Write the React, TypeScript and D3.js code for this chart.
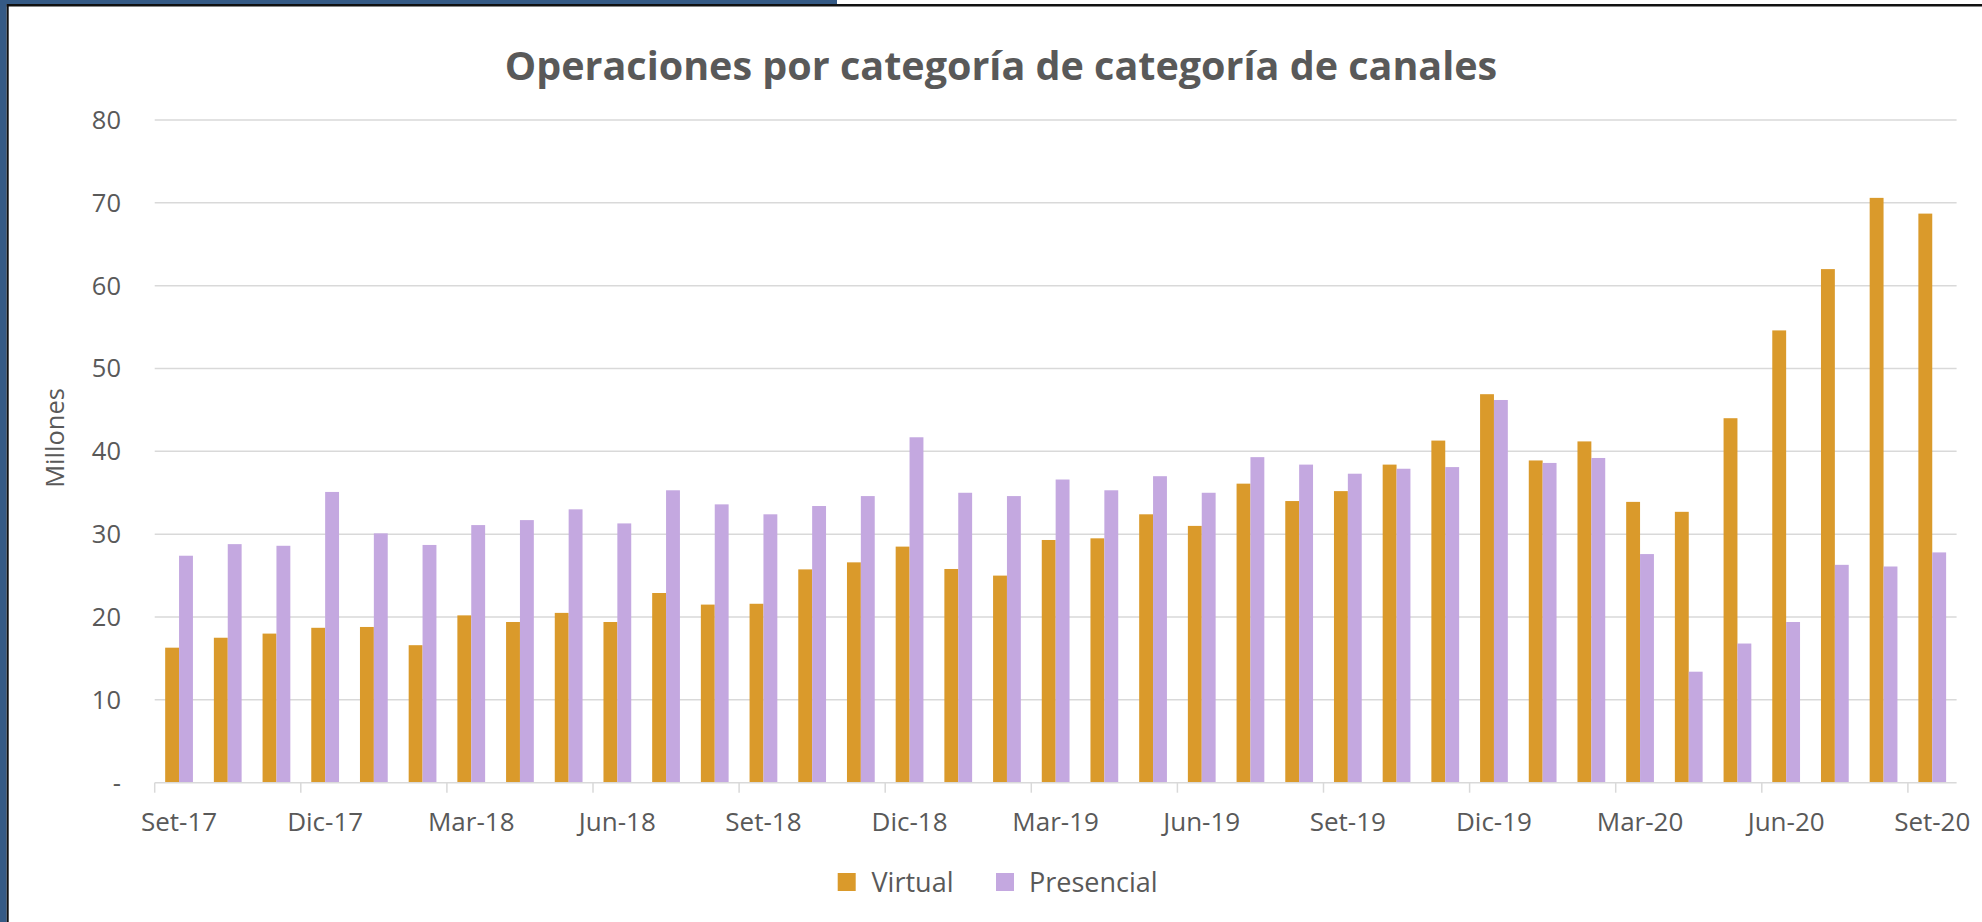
import React from "react";
import * as d3 from "d3";

const months: string[] = [
  "Set-17","Oct-17","Nov-17","Dic-17","Ene-18","Feb-18","Mar-18","Abr-18","May-18","Jun-18","Jul-18","Ago-18",
  "Set-18","Oct-18","Nov-18","Dic-18","Ene-19","Feb-19","Mar-19","Abr-19","May-19","Jun-19","Jul-19","Ago-19",
  "Set-19","Oct-19","Nov-19","Dic-19","Ene-20","Feb-20","Mar-20","Abr-20","May-20","Jun-20","Jul-20","Ago-20","Set-20",
];

const virtualValues: number[] = [
  16.3, 17.5, 18.0, 18.7, 18.8, 16.6, 20.2, 19.4, 20.5, 19.4, 22.9, 21.5,
  21.6, 25.75, 26.6, 28.5, 25.8, 25.0, 29.3, 29.5, 32.4, 31.0, 36.1, 34.0,
  35.2, 38.4, 41.3, 46.9, 38.9, 41.2, 33.9, 32.7, 44.0, 54.6, 62.0, 70.6, 68.7,
];

const presencialValues: number[] = [
  27.4, 28.8, 28.6, 35.1, 30.1, 28.7, 31.1, 31.7, 33.0, 31.3, 35.3, 33.6,
  32.4, 33.4, 34.6, 41.7, 35.0, 34.6, 36.6, 35.3, 37.0, 35.0, 39.3, 38.4,
  37.3, 37.9, 38.1, 46.2, 38.6, 39.2, 27.6, 13.4, 16.8, 19.4, 26.3, 26.1, 27.8,
];

const seriesNames: string[] = ["Virtual", "Presencial"];
const seriesColors: string[] = ["#DA9A2B", "#C4A8E0"];
const yTicks: number[] = [0, 10, 20, 30, 40, 50, 60, 70, 80];

const TEXT = "#595959";
const FONT = "'Open Sans', sans-serif";

export default function App() {
  const W = 1982, H = 922;
  const left = 154.7, right = 1956.6, top = 120, bottom = 782.7;

  const x = d3.scaleBand<string>().domain(months).range([left, right]).paddingInner(0.43).paddingOuter(0.215);
  const xs = d3.scaleBand<string>().domain(seriesNames).range([0, x.bandwidth()]).padding(0);
  const y = d3.scaleLinear().domain([0, 80]).range([bottom, top]);
  const step = x.step();
  const catLeft = (i: number) => left + step * i;

  const data = [virtualValues, presencialValues];

  return (
    <svg width={W} height={H} style={{ position: "absolute", left: 0, top: 0, background: "#fff" }} fontFamily={FONT}>
      <rect x={0} y={0} width={W} height={H} fill="#fff" />
      {/* frame */}
      <rect x={0} y={0} width={837} height={4} fill="#355A85" />
      <rect x={0} y={0} width={6.7} height={H} fill="#355A85" />
      <rect x={6.7} y={4} width={W} height={2.5} fill="#111" />
      <rect x={6.7} y={4} width={2} height={H} fill="#111" />

      {/* title */}
      <text x={1001} y={80} textAnchor="middle" fontSize={39.5} fontWeight={700} fill={TEXT}>
        Operaciones por categoría de categoría de canales
      </text>

      {/* gridlines */}
      {yTicks.map((t) => (
        <g key={t}>
          {t > 0 && <line x1={left} x2={right} y1={y(t)} y2={y(t)} stroke="#D9D9D9" strokeWidth={1.5} />}
          <text x={121} y={y(t)} dy="0.35em" textAnchor="end" fontSize={25.5} fill={TEXT}>
            {t === 0 ? "-" : t}
          </text>
        </g>
      ))}

      {/* bars */}
      {data.map((vals, si) => (
        <g key={si}>
          {vals.map((v, i) => (
            <rect
              key={i}
              x={(x(months[i]) as number) + (xs(seriesNames[si]) as number)}
              y={y(v)}
              width={xs.bandwidth()}
              height={bottom - y(v)}
              fill={seriesColors[si]}
            />
          ))}
        </g>
      ))}

      {/* x axis */}
      <line x1={left} x2={right} y1={bottom} y2={bottom} stroke="#D9D9D9" strokeWidth={1.5} />
      {months.map((m, i) =>
        i % 3 === 0 ? (
          <g key={m}>
            <line x1={catLeft(i)} x2={catLeft(i)} y1={bottom} y2={bottom + 10} stroke="#D9D9D9" strokeWidth={1.5} />
            <text x={(x(m) as number) + x.bandwidth() / 2} y={830.5} textAnchor="middle" fontSize={26} fill={TEXT}>
              {m}
            </text>
          </g>
        ) : null
      )}

      {/* y axis title */}
      <text transform="translate(64,438) rotate(-90)" textAnchor="middle" fontSize={25.5} fill={TEXT}>
        Millones
      </text>

      {/* legend */}
      <rect x={837.7} y={873} width={18} height={18} fill={seriesColors[0]} />
      <text x={871.5} y={891.5} fontSize={27} fill={TEXT}>{seriesNames[0]}</text>
      <rect x={996} y={873} width={18} height={18} fill={seriesColors[1]} />
      <text x={1029} y={891.5} fontSize={27} fill={TEXT}>{seriesNames[1]}</text>
    </svg>
  );
}
